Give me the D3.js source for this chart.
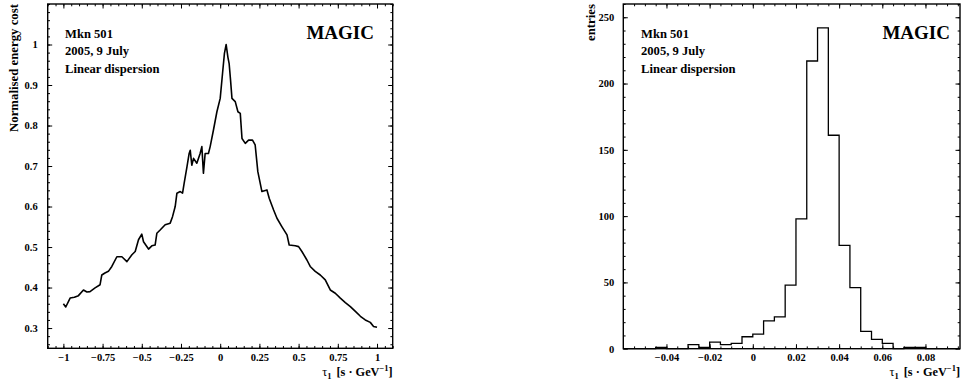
<!DOCTYPE html>
<html>
<head>
<meta charset="utf-8">
<script src="https://cdn.jsdelivr.net/npm/d3@7"></script>
<style>
  body { margin: 0; background: #fff; }
  svg text { font-family: "Liberation Serif", "DejaVu Serif", serif; font-weight: bold; fill: #000; }
</style>
</head>
<body>
<svg id="svg" width="971" height="385"></svg>
<script>
// left panel: normalised energy cost vs tau1
var tau = [-1, -0.985, -0.957, -0.93, -0.904, -0.872, -0.85, -0.83, -0.798, -0.766, -0.755, -0.735, -0.713, -0.691,
  -0.659, -0.627, -0.595, -0.563, -0.542, -0.521, -0.5, -0.489, -0.457, -0.436, -0.415, -0.404, -0.383, -0.351,
  -0.319, -0.304, -0.287, -0.276, -0.255, -0.24, -0.23, -0.212, -0.198, -0.191, -0.181, -0.17, -0.149, -0.128,
  -0.117, -0.107, -0.096, -0.075, -0.064, -0.043, -0.021, 0, 0.015, 0.027, 0.038, 0.049, 0.057, 0.066, 0.075,
  0.096, 0.113, 0.128, 0.139, 0.16, 0.181, 0.206, 0.223, 0.24, 0.266, 0.298, 0.313, 0.34, 0.362, 0.394, 0.426,
  0.44, 0.479, 0.5, 0.521, 0.553, 0.574, 0.606, 0.638, 0.67, 0.702, 0.734, 0.766, 0.798, 0.83, 0.862, 0.894,
  0.925, 0.957, 0.978, 1];
var cost = [0.360, 0.352, 0.374, 0.376, 0.380, 0.394, 0.389, 0.390, 0.399, 0.407, 0.431, 0.436, 0.440, 0.452,
  0.476, 0.476, 0.464, 0.481, 0.489, 0.518, 0.532, 0.513, 0.495, 0.503, 0.505, 0.534, 0.542, 0.555,
  0.559, 0.575, 0.600, 0.633, 0.637, 0.633, 0.657, 0.698, 0.731, 0.739, 0.702, 0.719, 0.707, 0.731,
  0.748, 0.682, 0.731, 0.731, 0.748, 0.789, 0.834, 0.867, 0.929, 0.978, 1.0, 0.969, 0.953, 0.912, 0.867,
  0.859, 0.834, 0.830, 0.768, 0.756, 0.764, 0.764, 0.752, 0.686, 0.637, 0.641, 0.620, 0.592, 0.571, 0.550, 0.530,
  0.505, 0.503, 0.501, 0.489, 0.468, 0.452, 0.440, 0.431, 0.419, 0.394, 0.386, 0.374, 0.363, 0.353, 0.341, 0.329,
  0.320, 0.314, 0.304, 0.302];
var leftXTicks = [-1, -0.75, -0.5, -0.25, 0, 0.25, 0.5, 0.75, 1];
var leftYTicks = [0.3, 0.4, 0.5, 0.6, 0.7, 0.8, 0.9, 1];

// right panel: histogram of tau1
var binStarts = [-0.06, -0.055, -0.05, -0.045, -0.04, -0.035, -0.03, -0.025, -0.02, -0.015, -0.01, -0.005,
  0, 0.005, 0.01, 0.015, 0.02, 0.025, 0.03, 0.035, 0.04, 0.045, 0.05, 0.055, 0.06, 0.065, 0.07, 0.075, 0.08, 0.085, 0.09];
var entries = [0, 0, 0, 1, 0, 0, 3, 1, 5, 3, 4, 9,
  11, 21, 24, 48, 98, 217, 242, 161, 78, 46, 13, 7, 4, 0, 1, 1, 0, 0, 0];
var binWidth = 0.005;
var rightXTicks = [-0.04, -0.02, 0, 0.02, 0.04, 0.06, 0.08];
var rightYTicks = [0, 50, 100, 150, 200, 250];

var infoLines = ["Mkn 501", "2005, 9 July", "Linear dispersion"];

var svg = d3.select("svg");

function range(a, b, step) {
  var out = [];
  for (var v = a; v <= b + step / 1000; v += step) out.push(+v.toFixed(6));
  return out;
}

function drawFrame(g, x, y, majX, minX, majY, minY, padY) {
  var x0 = x.range()[0], x1 = x.range()[1], y0 = y.range()[0], y1 = y.range()[1];
  var fmt = function(d) { return d3.format("")(d); };

  // bottom majors with labels
  g.append("g").attr("transform", "translate(0," + y0 + ")")
    .call(d3.axisBottom(x).tickValues(majX).tickSizeInner(-4.5).tickSizeOuter(0).tickPadding(5).tickFormat(fmt))
    .call(s => s.select(".domain").remove());
  g.append("g").attr("transform", "translate(0," + y0 + ")")
    .call(d3.axisBottom(x).tickValues(minX).tickSize(-2.3).tickFormat(""))
    .call(s => s.select(".domain").remove());
  // top mirrored ticks
  g.append("g").attr("transform", "translate(0," + y1 + ")")
    .call(d3.axisTop(x).tickValues(majX).tickSize(-4.5).tickFormat(""))
    .call(s => s.select(".domain").remove());
  g.append("g").attr("transform", "translate(0," + y1 + ")")
    .call(d3.axisTop(x).tickValues(minX).tickSize(-2.3).tickFormat(""))
    .call(s => s.select(".domain").remove());
  // left
  g.append("g").attr("transform", "translate(" + x0 + ",0)")
    .call(d3.axisLeft(y).tickValues(majY).tickSizeInner(-4.5).tickSizeOuter(0).tickPadding(padY).tickFormat(fmt))
    .call(s => s.select(".domain").remove());
  g.append("g").attr("transform", "translate(" + x0 + ",0)")
    .call(d3.axisLeft(y).tickValues(minY).tickSize(-2.3).tickFormat(""))
    .call(s => s.select(".domain").remove());
  // right
  g.append("g").attr("transform", "translate(" + x1 + ",0)")
    .call(d3.axisRight(y).tickValues(majY).tickSize(-4.5).tickFormat(""))
    .call(s => s.select(".domain").remove());
  g.append("g").attr("transform", "translate(" + x1 + ",0)")
    .call(d3.axisRight(y).tickValues(minY).tickSize(-2.3).tickFormat(""))
    .call(s => s.select(".domain").remove());

  g.selectAll(".tick line").attr("stroke", "#000").attr("stroke-width", 1);
  g.selectAll(".tick text").style("font-family", "Liberation Serif").style("font-weight", "bold").style("font-size", "10.5px");

  g.append("rect")
    .attr("x", x0).attr("y", y1).attr("width", x1 - x0).attr("height", y0 - y1)
    .attr("fill", "none").attr("stroke", "#000").attr("stroke-width", 1.4);
}

function drawInfo(g, x0, magicRight) {
  infoLines.forEach(function(t, i) {
    g.append("text").attr("x", x0).attr("y", 37.5 + i * 17.7).style("font-size", "12.6px").text(t);
  });
  g.append("text").attr("x", magicRight).attr("y", 39).attr("text-anchor", "end")
    .style("font-size", "19px").text("MAGIC");
}

function xTitle(g, xRight, yBase) {
  var t = g.append("text").attr("x", xRight).attr("y", yBase).attr("text-anchor", "end").style("font-size", "12.3px");
  t.append("tspan").style("font-weight", "normal").text("τ");
  t.append("tspan").attr("dy", 3).style("font-size", "8.5px").text("1");
  t.append("tspan").attr("dy", -3).attr("dx", 5).text("[s · GeV");
  t.append("tspan").attr("dy", -5).style("font-size", "8.5px").text("−1");
  t.append("tspan").attr("dy", 5).text("]");
}

// ---------- left panel ----------
var xL = d3.scaleLinear().domain([-1.1, 1.1]).range([47.7, 392.7]);
var yL = d3.scaleLinear().domain([0.25, 1.1]).range([348.3, 4]);
var gL = svg.append("g");

drawFrame(gL, xL, yL, leftXTicks, range(-1.1, 1.1, 0.05), leftYTicks, range(0.26, 1.1, 0.02), 10);

gL.append("path")
  .datum(tau.map((t, i) => [t, cost[i]]))
  .attr("fill", "none").attr("stroke", "#000").attr("stroke-width", 1.6).attr("stroke-linejoin", "round")
  .attr("d", d3.line().x(d => xL(d[0])).y(d => yL(d[1])));

drawInfo(gL, 65, 374);
xTitle(gL, 392.7, 376);
gL.append("text").attr("transform", "translate(17.5,4) rotate(-90)").attr("text-anchor", "end")
  .style("font-size", "12.8px").text("Normalised energy cost");

// ---------- right panel ----------
var xR = d3.scaleLinear().domain([-0.06, 0.096]).range([623.3, 960]);
var yR = d3.scaleLinear().domain([0, 260]).range([348.7, 4]);
var gR = svg.append("g");

drawFrame(gR, xR, yR, rightXTicks, range(-0.055, 0.095, 0.005), rightYTicks, range(10, 260, 10), 9);

var histPts = [[binStarts[0], 0]];
binStarts.forEach(function(b, i) { histPts.push([b, entries[i]]); });
histPts.push([binStarts[binStarts.length - 1] + binWidth, entries[entries.length - 1]]);
gR.append("path")
  .datum(histPts)
  .attr("fill", "none").attr("stroke", "#000").attr("stroke-width", 1.3)
  .attr("d", d3.line().curve(d3.curveStepAfter).x(d => xR(Math.min(d[0], 0.096))).y(d => yR(d[1])));

drawInfo(gR, 641, 950);
xTitle(gR, 960, 376);
gR.append("text").attr("transform", "translate(594.5,4) rotate(-90)").attr("text-anchor", "end")
  .style("font-size", "12.8px").text("entries");
</script>
</body>
</html>
